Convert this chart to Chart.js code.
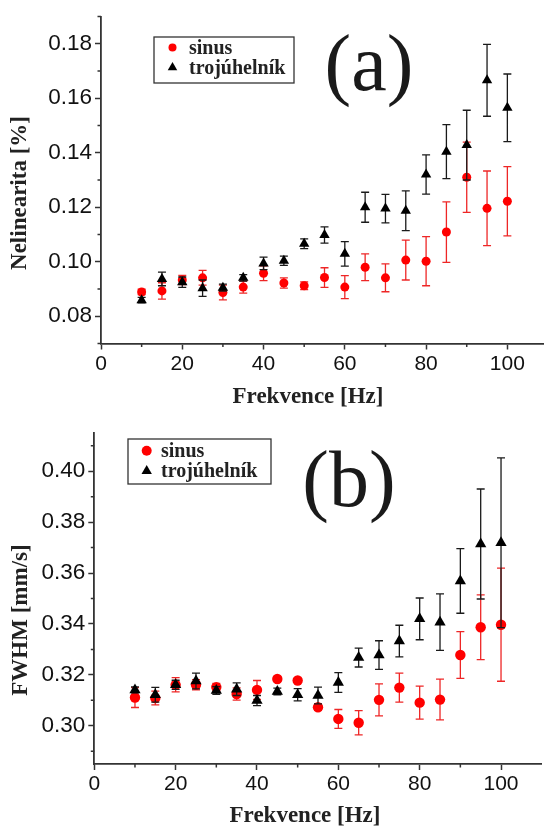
<!DOCTYPE html>
<html>
<head>
<meta charset="utf-8">
<script src="https://cdn.jsdelivr.net/npm/chart.js@4.4.0/dist/chart.umd.min.js"></script>
<style>
  html, body { margin: 0; padding: 0; background: #fff; overflow: hidden; }
  #wrap { position: relative; width: 544px; height: 828px; overflow: hidden; }
  .panel { position: absolute; left: 0; }
</style>
</head>
<body>
<div id="wrap">
  <div class="panel" style="top:0"><canvas id="chartA" width="548" height="415"></canvas></div>
  <div class="panel" style="top:415px"><canvas id="chartB" width="544" height="413"></canvas></div>
</div>
<script>
// frequencies [Hz]
const freq = [10, 15, 20, 25, 30, 35, 40, 45, 50, 55, 60, 65, 70, 75, 80, 85, 90, 95, 100];

// (a) nonlinearity [%]
const nelinSinus    = [0.0889, 0.0893, 0.0933, 0.0941, 0.0887, 0.0907, 0.0958, 0.0922, 0.0912, 0.0942, 0.0907, 0.0980, 0.0941, 0.1006, 0.1002, 0.1109, 0.1310, 0.1196, 0.1222];
const nelinSinusErr = [0.0010, 0.0030, 0.0017, 0.0027, 0.0027, 0.0022, 0.0027, 0.0019, 0.0014, 0.0036, 0.0042, 0.0049, 0.0051, 0.0073, 0.0090, 0.0111, 0.0129, 0.0137, 0.0127];
const nelinTroj     = [0.0859, 0.0937, 0.0925, 0.0903, 0.0905, 0.0941, 0.0994, 0.1004, 0.1066, 0.1098, 0.1029, 0.1200, 0.1195, 0.1187, 0.1320, 0.1404, 0.1428, 0.1666, 0.1565];
const nelinTrojErr  = [0.0010, 0.0025, 0.0019, 0.0030, 0.0013, 0.0012, 0.0023, 0.0017, 0.0018, 0.0030, 0.0045, 0.0055, 0.0052, 0.0073, 0.0072, 0.0099, 0.0128, 0.0132, 0.0124];

// (b) line width FWHM [mm/s]
const fwhmSinus    = [0.3111, 0.3109, 0.3161, 0.3161, 0.3152, 0.3125, 0.3141, 0.3184, 0.3178, 0.3073, 0.3027, 0.3012, 0.3102, 0.3150, 0.3091, 0.3103, 0.3278, 0.3387, 0.3397];
const fwhmSinusErr = [0.0039, 0.0027, 0.0028, 0.0020, 0.0015, 0.0024, 0.0037, 0.0008, 0.0008, 0.0012, 0.0037, 0.0048, 0.0063, 0.0057, 0.0065, 0.0080, 0.0092, 0.0127, 0.0222];
const fwhmTroj     = [0.3141, 0.3122, 0.3161, 0.3176, 0.3139, 0.3144, 0.3099, 0.3135, 0.3122, 0.3119, 0.3170, 0.3268, 0.3278, 0.3333, 0.3420, 0.3407, 0.3569, 0.3714, 0.3719];
const fwhmTrojErr  = [0.0012, 0.0029, 0.0018, 0.0031, 0.0015, 0.0025, 0.0020, 0.0013, 0.0024, 0.0033, 0.0039, 0.0037, 0.0056, 0.0062, 0.0082, 0.0111, 0.0127, 0.0216, 0.0333];

// axis ticks
const freqTicks  = [0, 20, 40, 60, 80, 100];
const freqMinor  = [10, 30, 50, 70, 90];
const nelinTicks = [0.08, 0.10, 0.12, 0.14, 0.16, 0.18];
const nelinMinor = [0.07, 0.09, 0.11, 0.13, 0.15, 0.17, 0.19];
const fwhmTicks  = [0.30, 0.32, 0.34, 0.36, 0.38, 0.40];
const fwhmMinor  = [0.29, 0.31, 0.33, 0.35, 0.37, 0.39, 0.41];

const seriesNames = ['sinus', 'trojúhelník'];

const AXIS = '#333';
const SERIF = '"Liberation Serif", "DejaVu Serif", serif';
const SANS = '"Liberation Sans", Arial, sans-serif';

const toPoints = (ys) => freq.map((f, i) => ({ x: f, y: ys[i] }));

// vertical error bars, drawn just before each dataset's markers
const errorBars = {
  id: 'errorBars',
  beforeDatasetDraw(chart, args) {
    const ds = chart.data.datasets[args.index];
    if (!ds.errors) return;
    const { ctx, scales: { x, y } } = chart;
    ctx.save();
    ctx.strokeStyle = ds.errorColor;
    ctx.lineWidth = 1.3;
    ctx.beginPath();
    ds.data.forEach((p, j) => {
      const px = x.getPixelForValue(p.x);
      const top = y.getPixelForValue(p.y + ds.errors[j]);
      const bot = y.getPixelForValue(p.y - ds.errors[j]);
      ctx.moveTo(px, top); ctx.lineTo(px, bot);
      ctx.moveTo(px - 4, top); ctx.lineTo(px + 4, top);
      ctx.moveTo(px - 4, bot); ctx.lineTo(px + 4, bot);
    });
    ctx.stroke();
    ctx.restore();
  }
};

// short minor ticks between the labelled ones
const minorTicks = {
  id: 'minorTicks',
  afterDraw(chart, args, opts) {
    const { ctx, chartArea: a, scales: { x, y } } = chart;
    ctx.save();
    ctx.strokeStyle = AXIS;
    ctx.lineWidth = 1.5;
    ctx.beginPath();
    opts.x.forEach(v => {
      const px = x.getPixelForValue(v);
      ctx.moveTo(px, a.bottom); ctx.lineTo(px, a.bottom + 3.5);
    });
    opts.y.forEach(v => {
      const py = y.getPixelForValue(v);
      ctx.moveTo(a.left, py); ctx.lineTo(a.left - 3.5, py);
    });
    ctx.stroke();
    ctx.restore();
  }
};

// axis titles, panel letter and the framed legend
const decorations = {
  id: 'decorations',
  afterDraw(chart, args, o) {
    const { ctx } = chart;
    ctx.save();
    ctx.fillStyle = '#222';
    ctx.textAlign = 'center';
    ctx.textBaseline = 'middle';
    ctx.font = 'bold 23px ' + SERIF;
    ctx.fillText(o.xTitle, o.xTitlePos[0], o.xTitlePos[1]);
    ctx.save();
    ctx.translate(o.yTitlePos[0], o.yTitlePos[1]);
    ctx.rotate(-Math.PI / 2);
    ctx.fillText(o.yTitle, 0, 0);
    ctx.restore();

    ctx.fillStyle = '#1a1a1a';
    ctx.textBaseline = 'alphabetic';
    ctx.font = '80px ' + SERIF;
    ctx.fillText(o.letter, o.letterPos[0], o.letterPos[1]);

    const b = o.legendBox;
    ctx.strokeStyle = AXIS;
    ctx.lineWidth = 1.3;
    ctx.strokeRect(b[0], b[1], b[2], b[3]);
    ctx.textAlign = 'left';
    ctx.textBaseline = 'middle';
    ctx.font = 'bold 20px ' + SERIF;
    chart.data.datasets.forEach((ds, i) => {
      const ly = o.legendRows[i];
      ctx.fillStyle = ds.backgroundColor;
      Chart.helpers.drawPoint(ctx, { pointStyle: ds.pointStyle, radius: ds.legendRadius, rotation: 0, borderWidth: 0 }, o.legendMarkX, ly);
      ctx.fillStyle = '#222';
      ctx.fillText(ds.label, o.legendTextX, ly + 1);
    });
    ctx.restore();
  }
};

function makeChart(id, cfg) {
  return new Chart(document.getElementById(id), {
    type: 'scatter',
    data: {
      datasets: [
        {
          label: seriesNames[0],
          data: toPoints(cfg.sinus),
          errors: cfg.sinusErr,
          errorColor: 'rgba(235,0,0,0.85)',
          backgroundColor: '#ff0000',
          borderWidth: 0,
          pointStyle: 'circle',
          pointRadius: cfg.circleR,
          legendRadius: cfg.legendCircleR,
          order: 1
        },
        {
          label: seriesNames[1],
          data: toPoints(cfg.troj),
          errors: cfg.trojErr,
          errorColor: '#1a1a1a',
          backgroundColor: '#000000',
          borderWidth: 0,
          pointStyle: 'triangle',
          pointRadius: cfg.triR,
          legendRadius: cfg.legendTriR,
          order: 0
        }
      ]
    },
    options: {
      responsive: false,
      animation: false,
      events: [],
      layout: { autoPadding: false, padding: { top: cfg.padTop, right: cfg.padRight, left: 0, bottom: 0 } },
      scales: {
        x: {
          type: 'linear',
          min: 0,
          max: 110,
          afterBuildTicks: s => { s.ticks = freqTicks.map(v => ({ value: v })); },
          afterFit: s => { s.height = cfg.xAxisH; },
          grid: { drawOnChartArea: false, drawTicks: true, tickLength: 6, tickColor: AXIS, tickWidth: 1.5 },
          border: { display: true, color: AXIS, width: 1.8 },
          ticks: { color: '#111', font: { family: SANS, size: 21 }, padding: 2, maxRotation: 0, autoSkip: false,
                   callback: v => String(v) }
        },
        y: {
          type: 'linear',
          min: cfg.yMin,
          max: cfg.yMax,
          afterBuildTicks: s => { s.ticks = cfg.yTicks.map(v => ({ value: v })); },
          afterFit: s => { s.width = cfg.yAxisW; },
          grid: { drawOnChartArea: false, drawTicks: true, tickLength: 6, tickColor: AXIS, tickWidth: 1.5 },
          border: { display: true, color: AXIS, width: 1.8 },
          ticks: { color: '#111', font: { family: SANS, size: 22.5 }, padding: 3, autoSkip: false,
                   callback: v => v.toFixed(2) }
        }
      },
      plugins: {
        legend: { display: false },
        tooltip: { enabled: false },
        minorTicks: { x: freqMinor, y: cfg.yMinor },
        decorations: cfg.deco
      }
    },
    plugins: [errorBars, minorTicks, decorations]
  });
}

makeChart('chartA', {
  sinus: nelinSinus, sinusErr: nelinSinusErr, troj: nelinTroj, trojErr: nelinTrojErr,
  yMin: 0.07, yMax: 0.19, yTicks: nelinTicks, yMinor: nelinMinor,
  padTop: 12, padRight: 0, xAxisH: 71.5, yAxisW: 101,
  circleR: 4.5, triR: 6, legendCircleR: 4, legendTriR: 5.5,
  deco: {
    xTitle: 'Frekvence [Hz]', xTitlePos: [308, 397],
    yTitle: 'Nelinearita [%]', yTitlePos: [20, 193],
    letter: '(a)', letterPos: [369, 90],
    legendBox: [154, 37, 140, 46], legendRows: [47.5, 67.5], legendMarkX: 172.5, legendTextX: 189
  }
});

makeChart('chartB', {
  sinus: fwhmSinus, sinusErr: fwhmSinusErr, troj: fwhmTroj, trojErr: fwhmTrojErr,
  yMin: 0.285, yMax: 0.415, yTicks: fwhmTicks, yMinor: fwhmMinor,
  padTop: 18, padRight: 2.3, xAxisH: 64, yAxisW: 94.3,
  circleR: 5.2, triR: 6.5, legendCircleR: 5, legendTriR: 6,
  deco: {
    xTitle: 'Frekvence [Hz]', xTitlePos: [305, 401],
    yTitle: 'FWHM [mm/s]', yTitlePos: [21, 205],
    letter: '(b)', letterPos: [349, 91],
    legendBox: [128, 24, 143, 45], legendRows: [35.7, 56], legendMarkX: 146.7, legendTextX: 161
  }
});
</script>
</body>
</html>
